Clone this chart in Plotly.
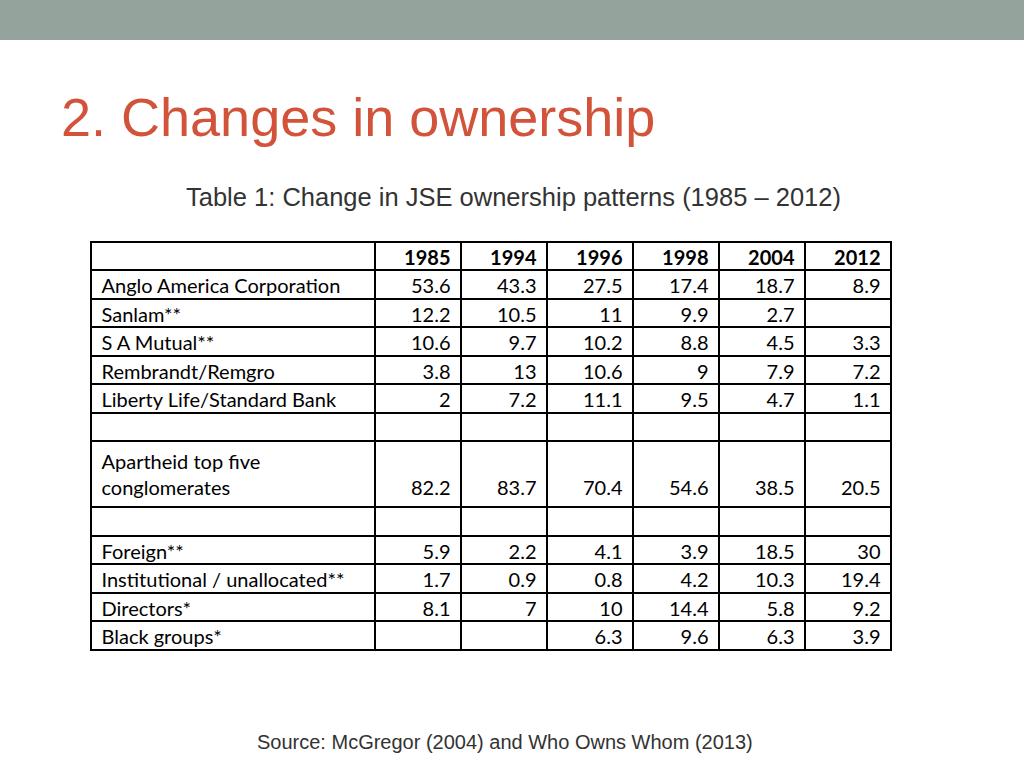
import plotly.graph_objects as go

# ---- data ----
years = ["1985", "1994", "1996", "1998", "2004", "2012"]
row_labels = [
    "Anglo America Corporation",
    "Sanlam**",
    "S A Mutual**",
    "Rembrandt/Remgro",
    "Liberty Life/Standard Bank",
    "",
    "Apartheid top five<br>conglomerates",
    "",
    "Foreign**",
    "Institutional / unallocated**",
    "Directors*",
    "Black groups*",
]
v1985 = [53.6, 12.2, 10.6, 3.8, 2, None, 82.2, None, 5.9, 1.7, 8.1, None]
v1994 = [43.3, 10.5, 9.7, 13, 7.2, None, 83.7, None, 2.2, 0.9, 7, None]
v1996 = [27.5, 11, 10.2, 10.6, 11.1, None, 70.4, None, 4.1, 0.8, 10, 6.3]
v1998 = [17.4, 9.9, 8.8, 9, 9.5, None, 54.6, None, 3.9, 4.2, 14.4, 9.6]
v2004 = [18.7, 2.7, 4.5, 7.9, 4.7, None, 38.5, None, 18.5, 10.3, 5.8, 6.3]
v2012 = [8.9, None, 3.3, 7.2, 1.1, None, 20.5, None, 30, 19.4, 9.2, 3.9]

title_text = "2. Changes in ownership"
subtitle_text = "Table 1: Change in JSE ownership patterns (1985 \u2013 2012)"
source_text = "Source: McGregor (2004) and Who Owns Whom (2013)"

PAD = "\u2009"  # thin space to mimic the wider cell padding of the original


def fmt_labels(labels):
    return [PAD + lab.replace("<br>", "<br>" + PAD) if lab else "" for lab in labels]


def fmt(col):
    out = []
    for lab, v in zip(row_labels, col):
        s = "" if v is None else f"{v:g}" + PAD
        if "<br>" in lab:
            s = "\u00a0<br>" + s
        out.append(s)
    return out


columns = [fmt_labels(row_labels)] + [fmt(c) for c in (v1985, v1994, v1996, v1998, v2004, v2012)]

W, H = 1024, 768
fig = go.Figure(
    go.Table(
        domain=dict(x=[91 / W, 891 / W], y=[0, 1 - 242 / H]),
        columnwidth=[284, 86, 86, 86, 86, 86, 86],
        header=dict(
            values=[""] + [y + PAD for y in years],
            align=["left"] + ["right"] * 6,
            fill_color="white",
            line=dict(color="black", width=2),
            font=dict(family="Lato", size=20, color="black", weight="bold"),
            height=28,
        ),
        cells=dict(
            values=columns,
            align=["left"] + ["right"] * 6,
            fill_color="white",
            line=dict(color="black", width=2),
            font=dict(family="Lato", size=20, color="black"),
            height=28.5,
        ),
    )
)

fig.add_shape(type="rect", xref="paper", yref="paper", x0=0, x1=1, y0=1 - 40 / H, y1=1,
              fillcolor="#94A39B", line=dict(width=0), layer="below")

fig.add_annotation(text=title_text, xref="paper", yref="paper", x=59 / W, y=1 - 117 / H,
                   xanchor="left", yanchor="middle", showarrow=False,
                   font=dict(family="Liberation Sans", size=54, color="#D2533A"))
fig.add_annotation(text=subtitle_text, xref="paper", yref="paper", x=513 / W, y=1 - 197 / H,
                   xanchor="center", yanchor="middle", showarrow=False,
                   font=dict(family="Liberation Sans", size=25.5, color="#333333"))
fig.add_annotation(text=source_text, xref="paper", yref="paper", x=505 / W, y=1 - 742 / H,
                   xanchor="center", yanchor="middle", showarrow=False,
                   font=dict(family="Liberation Sans", size=20, color="#333333"))

fig.update_layout(width=W, height=H, margin=dict(l=0, r=0, t=0, b=0),
                  paper_bgcolor="white", plot_bgcolor="white")
fig.write_html("out.html", config={"displayModeBar": False},
               post_script="document.body.style.margin='0px';document.body.style.overflow='hidden';")
